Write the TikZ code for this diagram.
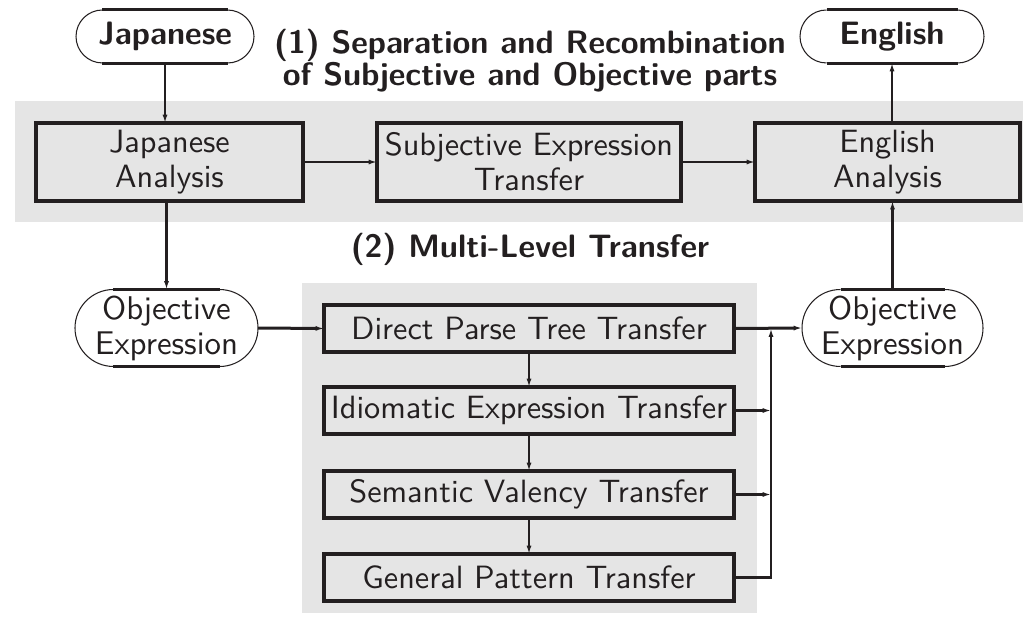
\documentclass[tikz,border=0pt]{standalone}
\usetikzlibrary{arrows.meta,calc}
\definecolor{ink}{RGB}{35,31,32}
\definecolor{band}{RGB}{229,229,229}
\tikzset{
  box/.style={draw=ink, line width=1.1pt, rectangle, inner sep=0pt, outer sep=0pt, align=center,
    font=\sffamily\fontsize{10.75}{11.7}\selectfont, text=ink},
  term/.style={rectangle, inner sep=0pt, outer sep=0pt, align=center, text=ink},
  termbold/.style={term, font=\sffamily\bfseries\fontsize{10.8}{11.7}\selectfont},
  termreg/.style={term, font=\sffamily\fontsize{10.95}{11.7}\selectfont},
  heading/.style={font=\sffamily\bfseries\fontsize{10.8}{10}\selectfont, text=ink, inner sep=0pt, anchor=base},
  flow/.style={draw=ink, line width=0.75pt, -{Latex[length=2.8pt,width=1.7pt]}},
  flowthick/.style={flow, line width=1pt},
  arcline/.style={draw=ink, line width=0.35pt},
  capline/.style={draw=ink, line width=1pt},
}
\newcommand{\termoutline}[2]{%
  \draw[arcline] ([xshift=#2]#1.north west) arc[start angle=90,end angle=270,radius=#2];
  \draw[arcline] ([xshift=-#2]#1.south east) arc[start angle=-90,end angle=90,radius=#2];
  \draw[capline] ([xshift=#2]#1.north west) -- ([xshift=-#2]#1.north east);
  \draw[capline] ([xshift=#2]#1.south west) -- ([xshift=-#2]#1.south east);
}
\begin{document}
\begin{tikzpicture}[x=0.33333pt,y=-0.33333pt]
\useasboundingbox (0,0) rectangle (1023,620);
% background bands
\fill[band] (15,101) rectangle (1023,222);
\fill[band] (302,283) rectangle (757,613);
% terminals
\node[termbold, minimum width=59.33pt, minimum height=17.67pt] (jp) at (165,36.5) {Japanese};
\node[termbold, minimum width=61.33pt, minimum height=17.67pt] (en) at (892,36.5) {English};
\node[termreg, minimum width=61pt, minimum height=25.67pt] (objl) at (166.5,328) {Objective\\Expression};
\node[termreg, minimum width=60.33pt, minimum height=25.67pt] (objr) at (892.5,328) {Objective\\Expression};
\termoutline{jp}{8.83pt}
\termoutline{en}{8.83pt}
\termoutline{objl}{12.83pt}
\termoutline{objr}{12.83pt}
% headings
\node[heading] (h1a) at (530,53.5) {(1) Separation and Recombination};
\node[heading] (h1b) at (530,85.5) {of Subjective and Objective parts};
\node[heading] (h2) at (530,257.5) {(2) Multi-Level Transfer};
% boxes
\node[box, minimum width=89pt, minimum height=26pt] (ja) at (169.5,162) {Japanese\\Analysis};
\node[box, minimum width=101.33pt, minimum height=26pt] (set) at (529,162) {Subjective Expression\\Transfer};
\node[box, minimum width=88.33pt, minimum height=26pt] (ea) at (887.5,162) {English\\Analysis};
\node[box, minimum width=136.67pt, minimum height=15.67pt] (dpt) at (529,328.5) {Direct Parse Tree Transfer};
\node[box, minimum width=136.67pt, minimum height=15.67pt] (iet) at (529,410.5) {Idiomatic Expression Transfer};
\node[box, minimum width=136.67pt, minimum height=15.67pt] (svt) at (529,494.5) {Semantic Valency Transfer};
\node[box, minimum width=136.67pt, minimum height=15.67pt] (gpt) at (529,577.5) {General Pattern Transfer};
\coordinate (bus) at (771,328.5);
% connectors
\draw[flow] (jp.south) -- (jp.south |- ja.north);
\draw[flow] (ja.east) -- (set.west);
\draw[flow] (set.east) -- (ea.west);
\draw[flow] (en.south |- ea.north) -- (en.south);
\draw[flow] (ja.south -| objl.north) -- (objl.north);
\draw[flowthick] (objl.east) -- (dpt.west);
\draw[flowthick] (dpt.east) -- (objr.west);
\draw[flow] (objr.north) -- (objr.north |- ea.south);
\draw[flow] (dpt.south) -- (iet.north);
\draw[flow] (iet.south) -- (svt.north);
\draw[flow] (svt.south) -- (gpt.north);
\draw[flow] (iet.east) -- (iet.east -| bus);
\draw[flow] (svt.east) -- (svt.east -| bus);
\draw[flow] (gpt.east) -| (bus);
\end{tikzpicture}
\end{document}
